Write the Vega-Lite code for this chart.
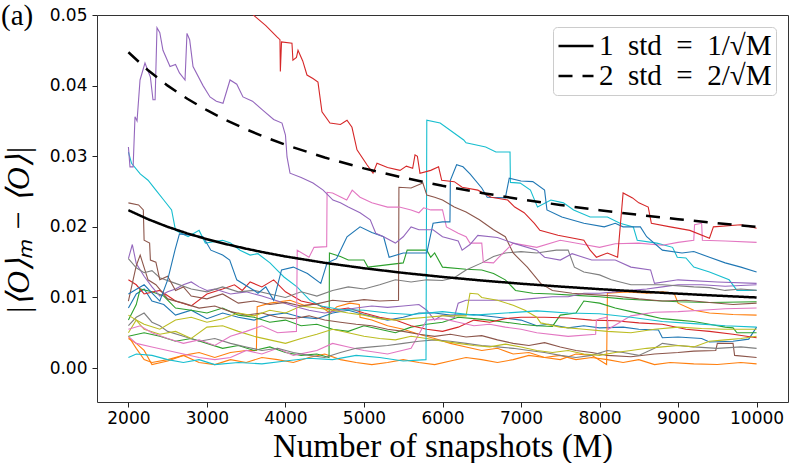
{
"$schema":"https://vega.github.io/schema/vega-lite/v6.json",
"width":691,"height":387,
"autosize":{"type":"none"},
"padding":{"left":97,"top":15,"right":1,"bottom":61},
"title":{"text":"(a)","anchor":"start","frame":"group","orient":"top","dx":-96,"offset":-48,"font":"Liberation Serif","fontSize":29,"fontWeight":"normal","baseline":"alphabetic","color":"black"},
"config":{"view":{"stroke":"#333333","strokeWidth":1},
"axis":{"grid":false,"domain":false,"tickColor":"#222222","tickSize":5,"labelFont":"DejaVu Sans","labelFontSize":17,"labelColor":"black","titleColor":"black","titleFontWeight":"normal"},
"legend":{"orient":"top-right","offset":12,"symbolType":"stroke","symbolSize":1225,"symbolStrokeWidth":2.5,"symbolStrokeColor":"black","labelFont":"Liberation Serif","labelFontSize":29,"labelColor":"black","fillColor":"white","strokeColor":"#cccccc","cornerRadius":4,"padding":4,"rowPadding":0,"clipHeight":30,"labelLimit":400,"labelOffset":4}},
"datasets":{
"std":[
{"l":"1 std = 1/√M","x":2000,"y":0.022361},{"l":"1 std = 1/√M","x":2250,"y":0.021082},{"l":"1 std = 1/√M","x":2500,"y":0.02},{"l":"1 std = 1/√M","x":2750,"y":0.019069},{"l":"1 std = 1/√M","x":3000,"y":0.018257},{"l":"1 std = 1/√M","x":3250,"y":0.017541},{"l":"1 std = 1/√M","x":3500,"y":0.016903},{"l":"1 std = 1/√M","x":3750,"y":0.01633},{"l":"1 std = 1/√M","x":4000,"y":0.015811},{"l":"1 std = 1/√M","x":4500,"y":0.014907},{"l":"1 std = 1/√M","x":5000,"y":0.014142},{"l":"1 std = 1/√M","x":5500,"y":0.013484},{"l":"1 std = 1/√M","x":6000,"y":0.01291},{"l":"1 std = 1/√M","x":6500,"y":0.012403},{"l":"1 std = 1/√M","x":7000,"y":0.011952},{"l":"1 std = 1/√M","x":7500,"y":0.011547},{"l":"1 std = 1/√M","x":8000,"y":0.01118},{"l":"1 std = 1/√M","x":8500,"y":0.010847},{"l":"1 std = 1/√M","x":9000,"y":0.010541},{"l":"1 std = 1/√M","x":9500,"y":0.01026},{"l":"1 std = 1/√M","x":10000,"y":0.01},
{"l":"2 std = 2/√M","x":2000,"y":0.044721},{"l":"2 std = 2/√M","x":2250,"y":0.042164},{"l":"2 std = 2/√M","x":2500,"y":0.04},{"l":"2 std = 2/√M","x":2750,"y":0.038139},{"l":"2 std = 2/√M","x":3000,"y":0.036515},{"l":"2 std = 2/√M","x":3250,"y":0.035082},{"l":"2 std = 2/√M","x":3500,"y":0.033806},{"l":"2 std = 2/√M","x":3750,"y":0.03266},{"l":"2 std = 2/√M","x":4000,"y":0.031623},{"l":"2 std = 2/√M","x":4500,"y":0.029814},{"l":"2 std = 2/√M","x":5000,"y":0.028284},{"l":"2 std = 2/√M","x":5500,"y":0.026968},{"l":"2 std = 2/√M","x":6000,"y":0.02582},{"l":"2 std = 2/√M","x":6500,"y":0.024807},{"l":"2 std = 2/√M","x":7000,"y":0.023905},{"l":"2 std = 2/√M","x":7500,"y":0.023094},{"l":"2 std = 2/√M","x":8000,"y":0.022361},{"l":"2 std = 2/√M","x":8500,"y":0.021693},{"l":"2 std = 2/√M","x":9000,"y":0.021082},{"l":"2 std = 2/√M","x":9500,"y":0.02052},{"l":"2 std = 2/√M","x":10000,"y":0.02}
],
"walks":[
{"s":"b2","x":2000,"y":0.0085},{"s":"b2","x":2100,"y":0.0105},{"s":"b2","x":2200,"y":0.0112},{"s":"b2","x":2300,"y":0.0095},{"s":"b2","x":2450,"y":0.009},{"s":"b2","x":2600,"y":0.0075},{"s":"b2","x":2800,"y":0.0082},{"s":"b2","x":3000,"y":0.007},{"s":"b2","x":3200,"y":0.0078},{"s":"b2","x":3400,"y":0.0072},{"s":"b2","x":3600,"y":0.0068},{"s":"b2","x":3800,"y":0.0075},{"s":"b2","x":4000,"y":0.0078},{"s":"b2","x":4200,"y":0.0072},{"s":"b2","x":4400,"y":0.007},{"s":"b2","x":4600,"y":0.0078},{"s":"b2","x":4800,"y":0.0082},{"s":"b2","x":5000,"y":0.0076},{"s":"b2","x":5300,"y":0.0068},{"s":"b2","x":5500,"y":0.0072},{"s":"b2","x":5700,"y":0.0078},{"s":"b2","x":5900,"y":0.0078},{"s":"b2","x":6100,"y":0.0075},{"s":"b2","x":6400,"y":0.0076},{"s":"b2","x":6700,"y":0.0072},{"s":"b2","x":7000,"y":0.0068},{"s":"b2","x":7200,"y":0.006},{"s":"b2","x":7350,"y":0.0062},{"s":"b2","x":7600,"y":0.0057},{"s":"b2","x":7800,"y":0.006},{"s":"b2","x":8000,"y":0.0057},{"s":"b2","x":8300,"y":0.0058},{"s":"b2","x":8500,"y":0.0055},{"s":"b2","x":8750,"y":0.0054},{"s":"b2","x":8800,"y":0.0043},{"s":"b2","x":9000,"y":0.0044},{"s":"b2","x":9300,"y":0.0042},{"s":"b2","x":9400,"y":0.0037},{"s":"b2","x":9700,"y":0.0038},{"s":"b2","x":9900,"y":0.0041},{"s":"b2","x":10000,"y":0.0058},
{"s":"a1","x":2000,"y":0.0045},{"s":"a1","x":2100,"y":0.0028},{"s":"a1","x":2200,"y":0.0012},{"s":"a1","x":2300,"y":0.0008},{"s":"a1","x":2500,"y":0.0012},{"s":"a1","x":2700,"y":0.0018},{"s":"a1","x":2900,"y":0.0008},{"s":"a1","x":3100,"y":0.0005},{"s":"a1","x":3300,"y":0.0012},{"s":"a1","x":3500,"y":0.0008},{"s":"a1","x":3700,"y":0.0015},{"s":"a1","x":3900,"y":0.0012},{"s":"a1","x":4100,"y":0.0008},{"s":"a1","x":4300,"y":0.0015},{"s":"a1","x":4500,"y":0.002},{"s":"a1","x":4700,"y":0.0012},{"s":"a1","x":4900,"y":0.0008},{"s":"a1","x":5100,"y":0.0005},{"s":"a1","x":5300,"y":0.0008},{"s":"a1","x":5500,"y":0.0012},{"s":"a1","x":5700,"y":0.0008},{"s":"a1","x":5900,"y":0.0005},{"s":"a1","x":6100,"y":0.001},{"s":"a1","x":6300,"y":0.0015},{"s":"a1","x":6500,"y":0.0012},{"s":"a1","x":6700,"y":0.0008},{"s":"a1","x":6900,"y":0.0012},{"s":"a1","x":7100,"y":0.0018},{"s":"a1","x":7300,"y":0.0015},{"s":"a1","x":7500,"y":0.0012},{"s":"a1","x":7700,"y":0.002},{"s":"a1","x":7900,"y":0.0018},{"s":"a1","x":8090,"y":0.0005},{"s":"a1","x":8100,"y":0.0106},{"s":"a1","x":8350,"y":0.0108},{"s":"a1","x":8600,"y":0.0106},{"s":"a1","x":8800,"y":0.0108},{"s":"a1","x":8950,"y":0.0106},{"s":"a1","x":9000,"y":0.0092},{"s":"a1","x":9200,"y":0.0082},{"s":"a1","x":9400,"y":0.0078},{"s":"a1","x":9700,"y":0.0076},{"s":"a1","x":10000,"y":0.0075},
{"s":"a2","x":2000,"y":0.0042},{"s":"a2","x":2100,"y":0.0035},{"s":"a2","x":2200,"y":0.0025},{"s":"a2","x":2300,"y":0.0005},{"s":"a2","x":2500,"y":0.001},{"s":"a2","x":2700,"y":0.0018},{"s":"a2","x":2900,"y":0.0022},{"s":"a2","x":3100,"y":0.0015},{"s":"a2","x":3300,"y":0.0022},{"s":"a2","x":3500,"y":0.0025},{"s":"a2","x":3630,"y":0.0025},{"s":"a2","x":3640,"y":0.0087},{"s":"a2","x":3803,"y":0.0092},{"s":"a2","x":4058,"y":0.0096},{"s":"a2","x":4236,"y":0.0089},{"s":"a2","x":4400,"y":0.0091},{"s":"a2","x":4567,"y":0.0078},{"s":"a2","x":4656,"y":0.0087},{"s":"a2","x":4822,"y":0.0092},{"s":"a2","x":4940,"y":0.009},{"s":"a2","x":4950,"y":0.0072},{"s":"a2","x":5100,"y":0.0068},{"s":"a2","x":5300,"y":0.006},{"s":"a2","x":5500,"y":0.0055},{"s":"a2","x":5700,"y":0.0048},{"s":"a2","x":5900,"y":0.0042},{"s":"a2","x":6100,"y":0.0035},{"s":"a2","x":6300,"y":0.003},{"s":"a2","x":6500,"y":0.0025},{"s":"a2","x":6700,"y":0.0028},{"s":"a2","x":6900,"y":0.002},{"s":"a2","x":7100,"y":0.0022},{"s":"a2","x":7300,"y":0.0015},{"s":"a2","x":7500,"y":0.0018},{"s":"a2","x":7700,"y":0.0012},{"s":"a2","x":7900,"y":0.0015},{"s":"a2","x":8100,"y":0.0012},{"s":"a2","x":8300,"y":0.0008},{"s":"a2","x":8500,"y":0.0012},{"s":"a2","x":8700,"y":0.0005},{"s":"a2","x":8900,"y":0.0008},{"s":"a2","x":9200,"y":0.0006},{"s":"a2","x":9500,"y":0.0005},{"s":"a2","x":9800,"y":0.0008},{"s":"a2","x":10000,"y":0.0006},
{"s":"g1","x":2000,"y":0.0045},{"s":"g1","x":2200,"y":0.005},{"s":"g1","x":2400,"y":0.0045},{"s":"g1","x":2600,"y":0.0038},{"s":"g1","x":2800,"y":0.0042},{"s":"g1","x":3000,"y":0.0035},{"s":"g1","x":3200,"y":0.0028},{"s":"g1","x":3400,"y":0.0032},{"s":"g1","x":3600,"y":0.0025},{"s":"g1","x":3800,"y":0.003},{"s":"g1","x":4000,"y":0.0022},{"s":"g1","x":4200,"y":0.0018},{"s":"g1","x":4400,"y":0.002},{"s":"g1","x":4555,"y":0.0015},{"s":"g1","x":4560,"y":0.0163},{"s":"g1","x":4700,"y":0.0158},{"s":"g1","x":4800,"y":0.0153},{"s":"g1","x":5000,"y":0.0153},{"s":"g1","x":5050,"y":0.0143},{"s":"g1","x":5500,"y":0.0149},{"s":"g1","x":5550,"y":0.0167},{"s":"g1","x":5800,"y":0.0167},{"s":"g1","x":5850,"y":0.0157},{"s":"g1","x":5900,"y":0.0163},{"s":"g1","x":6000,"y":0.0143},{"s":"g1","x":6300,"y":0.014},{"s":"g1","x":6500,"y":0.0139},{"s":"g1","x":6650,"y":0.0134},{"s":"g1","x":6800,"y":0.0125},{"s":"g1","x":6930,"y":0.011},{"s":"g1","x":7150,"y":0.0106},{"s":"g1","x":7400,"y":0.0105},{"s":"g1","x":7700,"y":0.0103},{"s":"g1","x":8000,"y":0.0101},{"s":"g1","x":8300,"y":0.0098},{"s":"g1","x":8600,"y":0.0096},{"s":"g1","x":9000,"y":0.0094},{"s":"g1","x":9400,"y":0.0093},{"s":"g1","x":10000,"y":0.0094},
{"s":"g2","x":2000,"y":0.0068},{"s":"g2","x":2100,"y":0.009},{"s":"g2","x":2150,"y":0.0112},{"s":"g2","x":2300,"y":0.0108},{"s":"g2","x":2450,"y":0.0102},{"s":"g2","x":2600,"y":0.0085},{"s":"g2","x":2800,"y":0.0082},{"s":"g2","x":3000,"y":0.0078},{"s":"g2","x":3200,"y":0.0085},{"s":"g2","x":3400,"y":0.0075},{"s":"g2","x":3600,"y":0.0072},{"s":"g2","x":3800,"y":0.0065},{"s":"g2","x":4000,"y":0.0068},{"s":"g2","x":4200,"y":0.006},{"s":"g2","x":4400,"y":0.0062},{"s":"g2","x":4600,"y":0.0055},{"s":"g2","x":4800,"y":0.0052},{"s":"g2","x":5000,"y":0.006},{"s":"g2","x":5200,"y":0.0055},{"s":"g2","x":5400,"y":0.005},{"s":"g2","x":5600,"y":0.0058},{"s":"g2","x":5800,"y":0.0062},{"s":"g2","x":6000,"y":0.0065},{"s":"g2","x":6200,"y":0.0072},{"s":"g2","x":6400,"y":0.007},{"s":"g2","x":6600,"y":0.0068},{"s":"g2","x":6800,"y":0.0065},{"s":"g2","x":7000,"y":0.0062},{"s":"g2","x":7200,"y":0.006},{"s":"g2","x":7400,"y":0.0059},{"s":"g2","x":7500,"y":0.0075},{"s":"g2","x":7700,"y":0.0078},{"s":"g2","x":7800,"y":0.0095},{"s":"g2","x":8000,"y":0.0092},{"s":"g2","x":8200,"y":0.0085},{"s":"g2","x":8400,"y":0.008},{"s":"g2","x":8600,"y":0.0075},{"s":"g2","x":8800,"y":0.007},{"s":"g2","x":9000,"y":0.0068},{"s":"g2","x":9200,"y":0.0066},{"s":"g2","x":9400,"y":0.0062},{"s":"g2","x":9600,"y":0.0058},{"s":"g2","x":9700,"y":0.0057},{"s":"g2","x":9750,"y":0.005},{"s":"g2","x":10000,"y":0.005},
{"s":"r2","x":2000,"y":0.0125},{"s":"r2","x":2100,"y":0.0118},{"s":"r2","x":2200,"y":0.0105},{"s":"r2","x":2400,"y":0.011},{"s":"r2","x":2600,"y":0.0095},{"s":"r2","x":2800,"y":0.0088},{"s":"r2","x":3000,"y":0.0105},{"s":"r2","x":3200,"y":0.0112},{"s":"r2","x":3350,"y":0.0118},{"s":"r2","x":3450,"y":0.011},{"s":"r2","x":3550,"y":0.0122},{"s":"r2","x":3700,"y":0.0115},{"s":"r2","x":3850,"y":0.0125},{"s":"r2","x":4000,"y":0.0108},{"s":"r2","x":4200,"y":0.0095},{"s":"r2","x":4400,"y":0.009},{"s":"r2","x":4600,"y":0.0082},{"s":"r2","x":4800,"y":0.0085},{"s":"r2","x":5000,"y":0.0078},{"s":"r2","x":5200,"y":0.0072},{"s":"r2","x":5400,"y":0.0068},{"s":"r2","x":5600,"y":0.006},{"s":"r2","x":5800,"y":0.0055},{"s":"r2","x":6000,"y":0.0052},{"s":"r2","x":6200,"y":0.0058},{"s":"r2","x":6400,"y":0.0068},{"s":"r2","x":6600,"y":0.0065},{"s":"r2","x":6800,"y":0.007},{"s":"r2","x":7000,"y":0.0072},{"s":"r2","x":7300,"y":0.0072},{"s":"r2","x":7600,"y":0.0071},{"s":"r2","x":7900,"y":0.0068},{"s":"r2","x":8200,"y":0.0067},{"s":"r2","x":8500,"y":0.0064},{"s":"r2","x":8800,"y":0.0062},{"s":"r2","x":9100,"y":0.0055},{"s":"r2","x":9400,"y":0.0052},{"s":"r2","x":9700,"y":0.0048},{"s":"r2","x":10000,"y":0.0043},
{"s":"p2","x":2000,"y":0.0155},{"s":"p2","x":2050,"y":0.0175},{"s":"p2","x":2100,"y":0.0148},{"s":"p2","x":2200,"y":0.013},{"s":"p2","x":2300,"y":0.0115},{"s":"p2","x":2400,"y":0.0102},{"s":"p2","x":2500,"y":0.0108},{"s":"p2","x":2600,"y":0.0112},{"s":"p2","x":2700,"y":0.0118},{"s":"p2","x":2800,"y":0.0122},{"s":"p2","x":2900,"y":0.0115},{"s":"p2","x":3000,"y":0.011},{"s":"p2","x":3100,"y":0.0112},{"s":"p2","x":3300,"y":0.0105},{"s":"p2","x":3500,"y":0.0108},{"s":"p2","x":3700,"y":0.0102},{"s":"p2","x":3900,"y":0.0095},{"s":"p2","x":4100,"y":0.0088},{"s":"p2","x":4300,"y":0.0082},{"s":"p2","x":4500,"y":0.0078},{"s":"p2","x":4700,"y":0.0082},{"s":"p2","x":4900,"y":0.0085},{"s":"p2","x":5100,"y":0.0088},{"s":"p2","x":5300,"y":0.0086},{"s":"p2","x":5500,"y":0.0088},{"s":"p2","x":5700,"y":0.009},{"s":"p2","x":5800,"y":0.0082},{"s":"p2","x":5900,"y":0.0068},{"s":"p2","x":6000,"y":0.0075},{"s":"p2","x":6150,"y":0.0072},{"s":"p2","x":6200,"y":0.0092},{"s":"p2","x":6300,"y":0.0096},{"s":"p2","x":6600,"y":0.0096},{"s":"p2","x":6900,"y":0.0096},{"s":"p2","x":7100,"y":0.0098},{"s":"p2","x":7400,"y":0.0101},{"s":"p2","x":7600,"y":0.0101},{"s":"p2","x":7800,"y":0.0106},{"s":"p2","x":8000,"y":0.0106},{"s":"p2","x":8200,"y":0.0108},{"s":"p2","x":8400,"y":0.011},{"s":"p2","x":8600,"y":0.0112},{"s":"p2","x":8800,"y":0.0115},{"s":"p2","x":9000,"y":0.0118},{"s":"p2","x":9300,"y":0.0118},{"s":"p2","x":9600,"y":0.0116},{"s":"p2","x":10000,"y":0.0118},
{"s":"n2","x":2000,"y":0.0095},{"s":"n2","x":2100,"y":0.0145},{"s":"n2","x":2150,"y":0.016},{"s":"n2","x":2250,"y":0.0125},{"s":"n2","x":2350,"y":0.0118},{"s":"n2","x":2500,"y":0.0098},{"s":"n2","x":2700,"y":0.0092},{"s":"n2","x":2900,"y":0.0085},{"s":"n2","x":3100,"y":0.0088},{"s":"n2","x":3300,"y":0.008},{"s":"n2","x":3500,"y":0.0075},{"s":"n2","x":3700,"y":0.0078},{"s":"n2","x":3900,"y":0.0072},{"s":"n2","x":4100,"y":0.007},{"s":"n2","x":4300,"y":0.0074},{"s":"n2","x":4500,"y":0.0068},{"s":"n2","x":4700,"y":0.0065},{"s":"n2","x":4900,"y":0.0062},{"s":"n2","x":5100,"y":0.006},{"s":"n2","x":5300,"y":0.0055},{"s":"n2","x":5500,"y":0.0052},{"s":"n2","x":5700,"y":0.0048},{"s":"n2","x":5900,"y":0.0045},{"s":"n2","x":6100,"y":0.0048},{"s":"n2","x":6300,"y":0.0044},{"s":"n2","x":6500,"y":0.0046},{"s":"n2","x":6700,"y":0.004},{"s":"n2","x":6900,"y":0.0035},{"s":"n2","x":7100,"y":0.0032},{"s":"n2","x":7300,"y":0.0036},{"s":"n2","x":7500,"y":0.003},{"s":"n2","x":7700,"y":0.0025},{"s":"n2","x":7900,"y":0.0022},{"s":"n2","x":8100,"y":0.0018},{"s":"n2","x":8400,"y":0.0016},{"s":"n2","x":8700,"y":0.002},{"s":"n2","x":9000,"y":0.0022},{"s":"n2","x":9200,"y":0.0024},{"s":"n2","x":9480,"y":0.0025},{"s":"n2","x":9500,"y":0.0035},{"s":"n2","x":9700,"y":0.0035},{"s":"n2","x":9720,"y":0.0018},{"s":"n2","x":10000,"y":0.0015},
{"s":"k2","x":2000,"y":0.0045},{"s":"k2","x":2100,"y":0.0035},{"s":"k2","x":2300,"y":0.003},{"s":"k2","x":2500,"y":0.0025},{"s":"k2","x":2700,"y":0.002},{"s":"k2","x":2900,"y":0.0015},{"s":"k2","x":3100,"y":0.0012},{"s":"k2","x":3300,"y":0.0015},{"s":"k2","x":3500,"y":0.0025},{"s":"k2","x":3700,"y":0.002},{"s":"k2","x":3900,"y":0.0028},{"s":"k2","x":4100,"y":0.0018},{"s":"k2","x":4400,"y":0.0025},{"s":"k2","x":4600,"y":0.0035},{"s":"k2","x":4800,"y":0.003},{"s":"k2","x":5000,"y":0.0025},{"s":"k2","x":5300,"y":0.002},{"s":"k2","x":5600,"y":0.0028},{"s":"k2","x":5800,"y":0.0068},{"s":"k2","x":6000,"y":0.007},{"s":"k2","x":6200,"y":0.0065},{"s":"k2","x":6400,"y":0.006},{"s":"k2","x":6600,"y":0.0062},{"s":"k2","x":6800,"y":0.0058},{"s":"k2","x":7000,"y":0.0055},{"s":"k2","x":7200,"y":0.005},{"s":"k2","x":7600,"y":0.0045},{"s":"k2","x":7950,"y":0.0048},{"s":"k2","x":7960,"y":0.0068},{"s":"k2","x":8000,"y":0.007},{"s":"k2","x":8100,"y":0.0072},{"s":"k2","x":8110,"y":0.0055},{"s":"k2","x":8400,"y":0.0074},{"s":"k2","x":8700,"y":0.0079},{"s":"k2","x":9000,"y":0.008},{"s":"k2","x":9300,"y":0.0082},{"s":"k2","x":9600,"y":0.0084},{"s":"k2","x":10000,"y":0.0085},
{"s":"y2","x":2000,"y":0.006},{"s":"y2","x":2100,"y":0.0072},{"s":"y2","x":2200,"y":0.0078},{"s":"y2","x":2300,"y":0.0065},{"s":"y2","x":2400,"y":0.006},{"s":"y2","x":2500,"y":0.0052},{"s":"y2","x":2700,"y":0.0045},{"s":"y2","x":2900,"y":0.0038},{"s":"y2","x":3100,"y":0.0042},{"s":"y2","x":3300,"y":0.0035},{"s":"y2","x":3500,"y":0.003},{"s":"y2","x":3700,"y":0.0025},{"s":"y2","x":3900,"y":0.0028},{"s":"y2","x":4100,"y":0.0022},{"s":"y2","x":4300,"y":0.0018},{"s":"y2","x":4500,"y":0.0015},{"s":"y2","x":4700,"y":0.0022},{"s":"y2","x":4900,"y":0.0028},{"s":"y2","x":5100,"y":0.003},{"s":"y2","x":5300,"y":0.0032},{"s":"y2","x":5500,"y":0.0035},{"s":"y2","x":5700,"y":0.0038},{"s":"y2","x":5900,"y":0.004},{"s":"y2","x":6100,"y":0.0038},{"s":"y2","x":6300,"y":0.0035},{"s":"y2","x":6500,"y":0.0032},{"s":"y2","x":6700,"y":0.003},{"s":"y2","x":6900,"y":0.0028},{"s":"y2","x":7100,"y":0.0025},{"s":"y2","x":7300,"y":0.0022},{"s":"y2","x":7500,"y":0.0018},{"s":"y2","x":7700,"y":0.0015},{"s":"y2","x":7900,"y":0.0018},{"s":"y2","x":8100,"y":0.0025},{"s":"y2","x":8300,"y":0.0022},{"s":"y2","x":8500,"y":0.0018},{"s":"y2","x":8700,"y":0.0028},{"s":"y2","x":8800,"y":0.0035},{"s":"y2","x":9000,"y":0.0032},{"s":"y2","x":9200,"y":0.003},{"s":"y2","x":9500,"y":0.0028},{"s":"y2","x":9800,"y":0.003},{"s":"y2","x":10000,"y":0.0028},
{"s":"o1","x":2000,"y":0.005},{"s":"o1","x":2100,"y":0.0068},{"s":"o1","x":2200,"y":0.0062},{"s":"o1","x":2400,"y":0.0055},{"s":"o1","x":2600,"y":0.0068},{"s":"o1","x":2800,"y":0.0072},{"s":"o1","x":3000,"y":0.0065},{"s":"o1","x":3200,"y":0.007},{"s":"o1","x":3400,"y":0.0078},{"s":"o1","x":3600,"y":0.0074},{"s":"o1","x":3800,"y":0.0082},{"s":"o1","x":4000,"y":0.0078},{"s":"o1","x":4200,"y":0.0088},{"s":"o1","x":4400,"y":0.0085},{"s":"o1","x":4600,"y":0.0082},{"s":"o1","x":4800,"y":0.0078},{"s":"o1","x":5000,"y":0.0075},{"s":"o1","x":5200,"y":0.007},{"s":"o1","x":5400,"y":0.0068},{"s":"o1","x":5600,"y":0.007},{"s":"o1","x":5800,"y":0.0072},{"s":"o1","x":6000,"y":0.0074},{"s":"o1","x":6300,"y":0.0074},{"s":"o1","x":6350,"y":0.0106},{"s":"o1","x":6450,"y":0.0105},{"s":"o1","x":6500,"y":0.01},{"s":"o1","x":6700,"y":0.0096},{"s":"o1","x":6900,"y":0.0089},{"s":"o1","x":7050,"y":0.0082},{"s":"o1","x":7200,"y":0.0072},{"s":"o1","x":7250,"y":0.0064},{"s":"o1","x":7500,"y":0.0058},{"s":"o1","x":7800,"y":0.0055},{"s":"o1","x":8100,"y":0.0052},{"s":"o1","x":8400,"y":0.005},{"s":"o1","x":8700,"y":0.0055},{"s":"o1","x":9000,"y":0.0058},{"s":"o1","x":9300,"y":0.0056},{"s":"o1","x":9600,"y":0.0055},{"s":"o1","x":10000,"y":0.0055},
{"s":"o2","x":2000,"y":0.0075},{"s":"o2","x":2100,"y":0.0068},{"s":"o2","x":2200,"y":0.0055},{"s":"o2","x":2400,"y":0.0048},{"s":"o2","x":2600,"y":0.0052},{"s":"o2","x":2800,"y":0.0042},{"s":"o2","x":3000,"y":0.0058},{"s":"o2","x":3200,"y":0.006},{"s":"o2","x":3400,"y":0.0052},{"s":"o2","x":3600,"y":0.0045},{"s":"o2","x":3800,"y":0.004},{"s":"o2","x":4000,"y":0.0035},{"s":"o2","x":4200,"y":0.0042},{"s":"o2","x":4400,"y":0.0048},{"s":"o2","x":4600,"y":0.0055},{"s":"o2","x":4800,"y":0.005},{"s":"o2","x":5000,"y":0.0045},{"s":"o2","x":5200,"y":0.0042},{"s":"o2","x":5400,"y":0.004},{"s":"o2","x":5600,"y":0.0045},{"s":"o2","x":5800,"y":0.0042},{"s":"o2","x":6000,"y":0.0038},{"s":"o2","x":6200,"y":0.0035},{"s":"o2","x":6400,"y":0.0032},{"s":"o2","x":6600,"y":0.003},{"s":"o2","x":6800,"y":0.0034},{"s":"o2","x":7000,"y":0.003},{"s":"o2","x":7200,"y":0.0025},{"s":"o2","x":7400,"y":0.0022},{"s":"o2","x":7600,"y":0.0025},{"s":"o2","x":7800,"y":0.002},{"s":"o2","x":8000,"y":0.0018},{"s":"o2","x":8200,"y":0.0022},{"s":"o2","x":8400,"y":0.0025},{"s":"o2","x":8600,"y":0.0028},{"s":"o2","x":8800,"y":0.003},{"s":"o2","x":9000,"y":0.0032},{"s":"o2","x":9200,"y":0.003},{"s":"o2","x":9400,"y":0.0038},{"s":"o2","x":9600,"y":0.004},{"s":"o2","x":9800,"y":0.0042},{"s":"o2","x":10000,"y":0.0045},
{"s":"c1","x":2000,"y":0.0306},{"s":"c1","x":2040,"y":0.029},{"s":"c1","x":2150,"y":0.0275},{"s":"c1","x":2250,"y":0.0266},{"s":"c1","x":2350,"y":0.0252},{"s":"c1","x":2450,"y":0.0238},{"s":"c1","x":2550,"y":0.0224},{"s":"c1","x":2600,"y":0.0195},{"s":"c1","x":2760,"y":0.0186},{"s":"c1","x":2900,"y":0.0195},{"s":"c1","x":2980,"y":0.0177},{"s":"c1","x":3200,"y":0.0181},{"s":"c1","x":3300,"y":0.0177},{"s":"c1","x":3421,"y":0.0167},{"s":"c1","x":3550,"y":0.016},{"s":"c1","x":3650,"y":0.0162},{"s":"c1","x":3803,"y":0.0149},{"s":"c1","x":3900,"y":0.0138},{"s":"c1","x":3981,"y":0.0129},{"s":"c1","x":4147,"y":0.0115},{"s":"c1","x":4313,"y":0.0096},{"s":"c1","x":4450,"y":0.0088},{"s":"c1","x":4700,"y":0.0083},{"s":"c1","x":5000,"y":0.0082},{"s":"c1","x":5300,"y":0.0078},{"s":"c1","x":5600,"y":0.0076},{"s":"c1","x":6000,"y":0.008},{"s":"c1","x":6400,"y":0.0075},{"s":"c1","x":6800,"y":0.0078},{"s":"c1","x":7200,"y":0.0081},{"s":"c1","x":7600,"y":0.0078},{"s":"c1","x":8000,"y":0.0077},{"s":"c1","x":8400,"y":0.0072},{"s":"c1","x":8800,"y":0.0066},{"s":"c1","x":9200,"y":0.0063},{"s":"c1","x":9600,"y":0.006},{"s":"c1","x":10000,"y":0.0058},
{"s":"c2","x":2000,"y":0.0015},{"s":"c2","x":2100,"y":0.002},{"s":"c2","x":2300,"y":0.0018},{"s":"c2","x":2500,"y":0.0012},{"s":"c2","x":2700,"y":0.0008},{"s":"c2","x":2900,"y":0.0012},{"s":"c2","x":3100,"y":0.0005},{"s":"c2","x":3400,"y":0.0008},{"s":"c2","x":3700,"y":0.0006},{"s":"c2","x":4000,"y":0.001},{"s":"c2","x":4300,"y":0.0014},{"s":"c2","x":4600,"y":0.0012},{"s":"c2","x":4900,"y":0.0018},{"s":"c2","x":5200,"y":0.0015},{"s":"c2","x":5500,"y":0.001},{"s":"c2","x":5790,"y":0.0012},{"s":"c2","x":5800,"y":0.0351},{"s":"c2","x":5970,"y":0.0347},{"s":"c2","x":6270,"y":0.0323},{"s":"c2","x":6300,"y":0.0319},{"s":"c2","x":6550,"y":0.0313},{"s":"c2","x":6680,"y":0.0306},{"s":"c2","x":6860,"y":0.0306},{"s":"c2","x":6865,"y":0.0263},{"s":"c2","x":6990,"y":0.0262},{"s":"c2","x":7120,"y":0.0252},{"s":"c2","x":7210,"y":0.0228},{"s":"c2","x":7380,"y":0.0238},{"s":"c2","x":7540,"y":0.0234},{"s":"c2","x":7670,"y":0.0224},{"s":"c2","x":7880,"y":0.0214},{"s":"c2","x":8100,"y":0.0214},{"s":"c2","x":8260,"y":0.0205},{"s":"c2","x":8430,"y":0.02},{"s":"c2","x":8480,"y":0.0181},{"s":"c2","x":8730,"y":0.0177},{"s":"c2","x":8930,"y":0.0171},{"s":"c2","x":8990,"y":0.0157},{"s":"c2","x":9100,"y":0.0156},{"s":"c2","x":9200,"y":0.0143},{"s":"c2","x":9400,"y":0.0136},{"s":"c2","x":9650,"y":0.0125},{"s":"c2","x":9750,"y":0.011},{"s":"c2","x":10000,"y":0.011},
{"s":"y1","x":2000,"y":0.0155},{"s":"y1","x":2100,"y":0.0142},{"s":"y1","x":2200,"y":0.0135},{"s":"y1","x":2300,"y":0.0138},{"s":"y1","x":2400,"y":0.0128},{"s":"y1","x":2600,"y":0.012},{"s":"y1","x":2800,"y":0.0112},{"s":"y1","x":3000,"y":0.0108},{"s":"y1","x":3200,"y":0.0115},{"s":"y1","x":3400,"y":0.0108},{"s":"y1","x":3600,"y":0.011},{"s":"y1","x":3800,"y":0.0105},{"s":"y1","x":4000,"y":0.01},{"s":"y1","x":4200,"y":0.0108},{"s":"y1","x":4400,"y":0.0102},{"s":"y1","x":4600,"y":0.011},{"s":"y1","x":4800,"y":0.0115},{"s":"y1","x":5000,"y":0.0112},{"s":"y1","x":5200,"y":0.0118},{"s":"y1","x":5400,"y":0.0125},{"s":"y1","x":5600,"y":0.0122},{"s":"y1","x":5800,"y":0.0125},{"s":"y1","x":6000,"y":0.0124},{"s":"y1","x":6150,"y":0.0128},{"s":"y1","x":6300,"y":0.0139},{"s":"y1","x":6500,"y":0.0149},{"s":"y1","x":6650,"y":0.0158},{"s":"y1","x":6800,"y":0.0163},{"s":"y1","x":7000,"y":0.0165},{"s":"y1","x":7200,"y":0.0163},{"s":"y1","x":7450,"y":0.0167},{"s":"y1","x":7600,"y":0.0167},{"s":"y1","x":7680,"y":0.0143},{"s":"y1","x":7800,"y":0.0136},{"s":"y1","x":8000,"y":0.0132},{"s":"y1","x":8150,"y":0.0125},{"s":"y1","x":8400,"y":0.0118},{"s":"y1","x":8800,"y":0.0118},{"s":"y1","x":9200,"y":0.0115},{"s":"y1","x":9400,"y":0.0114},{"s":"y1","x":9600,"y":0.011},{"s":"y1","x":9800,"y":0.0112},{"s":"y1","x":10000,"y":0.011},
{"s":"n1","x":2000,"y":0.0234},{"s":"n1","x":2130,"y":0.0231},{"s":"n1","x":2190,"y":0.0224},{"s":"n1","x":2200,"y":0.0181},{"s":"n1","x":2270,"y":0.0177},{"s":"n1","x":2280,"y":0.0153},{"s":"n1","x":2350,"y":0.015},{"s":"n1","x":2400,"y":0.0125},{"s":"n1","x":2500,"y":0.013},{"s":"n1","x":2600,"y":0.011},{"s":"n1","x":2700,"y":0.0115},{"s":"n1","x":2800,"y":0.0102},{"s":"n1","x":3000,"y":0.0098},{"s":"n1","x":3200,"y":0.0105},{"s":"n1","x":3400,"y":0.0092},{"s":"n1","x":3600,"y":0.0095},{"s":"n1","x":3800,"y":0.009},{"s":"n1","x":4000,"y":0.0093},{"s":"n1","x":4200,"y":0.0088},{"s":"n1","x":4400,"y":0.0091},{"s":"n1","x":4600,"y":0.0096},{"s":"n1","x":4800,"y":0.0094},{"s":"n1","x":5000,"y":0.0097},{"s":"n1","x":5200,"y":0.0095},{"s":"n1","x":5440,"y":0.0096},{"s":"n1","x":5445,"y":0.0256},{"s":"n1","x":5600,"y":0.0255},{"s":"n1","x":5750,"y":0.0262},{"s":"n1","x":5800,"y":0.0245},{"s":"n1","x":5900,"y":0.0242},{"s":"n1","x":6000,"y":0.0238},{"s":"n1","x":6150,"y":0.0228},{"s":"n1","x":6300,"y":0.0221},{"s":"n1","x":6470,"y":0.021},{"s":"n1","x":6650,"y":0.0196},{"s":"n1","x":6800,"y":0.0186},{"s":"n1","x":6900,"y":0.0163},{"s":"n1","x":7080,"y":0.0143},{"s":"n1","x":7250,"y":0.012},{"s":"n1","x":7400,"y":0.011},{"s":"n1","x":7650,"y":0.0106},{"s":"n1","x":7900,"y":0.0104},{"s":"n1","x":8200,"y":0.0102},{"s":"n1","x":8500,"y":0.0098},{"s":"n1","x":8800,"y":0.0095},{"s":"n1","x":9100,"y":0.0096},{"s":"n1","x":9400,"y":0.0093},{"s":"n1","x":9700,"y":0.009},{"s":"n1","x":10000,"y":0.0092},
{"s":"k1","x":2000,"y":0.0055},{"s":"k1","x":2150,"y":0.006},{"s":"k1","x":2300,"y":0.005},{"s":"k1","x":2500,"y":0.0042},{"s":"k1","x":2700,"y":0.0035},{"s":"k1","x":2900,"y":0.004},{"s":"k1","x":3100,"y":0.0032},{"s":"k1","x":3300,"y":0.0045},{"s":"k1","x":3500,"y":0.0052},{"s":"k1","x":3700,"y":0.006},{"s":"k1","x":3900,"y":0.005},{"s":"k1","x":4140,"y":0.0052},{"s":"k1","x":4150,"y":0.0167},{"s":"k1","x":4300,"y":0.0157},{"s":"k1","x":4364,"y":0.0171},{"s":"k1","x":4525,"y":0.0172},{"s":"k1","x":4530,"y":0.0249},{"s":"k1","x":4600,"y":0.0248},{"s":"k1","x":4780,"y":0.0238},{"s":"k1","x":4850,"y":0.0252},{"s":"k1","x":4950,"y":0.0242},{"s":"k1","x":5100,"y":0.0234},{"s":"k1","x":5300,"y":0.0228},{"s":"k1","x":5450,"y":0.0228},{"s":"k1","x":5600,"y":0.0224},{"s":"k1","x":5700,"y":0.022},{"s":"k1","x":5760,"y":0.0227},{"s":"k1","x":5850,"y":0.0224},{"s":"k1","x":6000,"y":0.0224},{"s":"k1","x":6050,"y":0.02},{"s":"k1","x":6200,"y":0.0191},{"s":"k1","x":6300,"y":0.0186},{"s":"k1","x":6350,"y":0.0177},{"s":"k1","x":6500,"y":0.0177},{"s":"k1","x":6520,"y":0.015},{"s":"k1","x":6650,"y":0.0149},{"s":"k1","x":6700,"y":0.0155},{"s":"k1","x":6900,"y":0.0177},{"s":"k1","x":7200,"y":0.0171},{"s":"k1","x":7500,"y":0.0181},{"s":"k1","x":7800,"y":0.0175},{"s":"k1","x":8000,"y":0.0171},{"s":"k1","x":8200,"y":0.0176},{"s":"k1","x":8500,"y":0.0177},{"s":"k1","x":8800,"y":0.0174},{"s":"k1","x":9000,"y":0.0178},{"s":"k1","x":9200,"y":0.0181},{"s":"k1","x":9210,"y":0.0203},{"s":"k1","x":9300,"y":0.0205},{"s":"k1","x":9310,"y":0.0181},{"s":"k1","x":9600,"y":0.018},{"s":"k1","x":10000,"y":0.0178},
{"s":"b1","x":2000,"y":0.0105},{"s":"b1","x":2200,"y":0.0118},{"s":"b1","x":2400,"y":0.0095},{"s":"b1","x":2500,"y":0.0125},{"s":"b1","x":2593,"y":0.0167},{"s":"b1","x":2650,"y":0.019},{"s":"b1","x":2800,"y":0.0188},{"s":"b1","x":2950,"y":0.0186},{"s":"b1","x":3050,"y":0.0167},{"s":"b1","x":3200,"y":0.016},{"s":"b1","x":3290,"y":0.0153},{"s":"b1","x":3380,"y":0.0125},{"s":"b1","x":3600,"y":0.011},{"s":"b1","x":3650,"y":0.0106},{"s":"b1","x":3750,"y":0.0115},{"s":"b1","x":3850,"y":0.0096},{"s":"b1","x":3950,"y":0.0139},{"s":"b1","x":4100,"y":0.0143},{"s":"b1","x":4280,"y":0.0134},{"s":"b1","x":4450,"y":0.012},{"s":"b1","x":4530,"y":0.0149},{"s":"b1","x":4650,"y":0.0155},{"s":"b1","x":4784,"y":0.0186},{"s":"b1","x":4950,"y":0.02},{"s":"b1","x":5100,"y":0.0192},{"s":"b1","x":5250,"y":0.0186},{"s":"b1","x":5320,"y":0.0157},{"s":"b1","x":5500,"y":0.0163},{"s":"b1","x":5800,"y":0.0163},{"s":"b1","x":5880,"y":0.0205},{"s":"b1","x":6000,"y":0.0207},{"s":"b1","x":6095,"y":0.0207},{"s":"b1","x":6100,"y":0.0266},{"s":"b1","x":6180,"y":0.0288},{"s":"b1","x":6261,"y":0.0285},{"s":"b1","x":6350,"y":0.0275},{"s":"b1","x":6500,"y":0.0255},{"s":"b1","x":6570,"y":0.0242},{"s":"b1","x":6800,"y":0.0241},{"s":"b1","x":6850,"y":0.0269},{"s":"b1","x":7000,"y":0.0265},{"s":"b1","x":7150,"y":0.0264},{"s":"b1","x":7300,"y":0.0252},{"s":"b1","x":7330,"y":0.0224},{"s":"b1","x":7520,"y":0.0214},{"s":"b1","x":7800,"y":0.0205},{"s":"b1","x":8060,"y":0.02},{"s":"b1","x":8200,"y":0.0205},{"s":"b1","x":8300,"y":0.02},{"s":"b1","x":8520,"y":0.02},{"s":"b1","x":8600,"y":0.0186},{"s":"b1","x":8800,"y":0.0167},{"s":"b1","x":9050,"y":0.0163},{"s":"b1","x":9200,"y":0.0165},{"s":"b1","x":9400,"y":0.0157},{"s":"b1","x":9600,"y":0.0149},{"s":"b1","x":9800,"y":0.0143},{"s":"b1","x":10000,"y":0.0136},
{"s":"p1","x":2000,"y":0.0313},{"s":"p1","x":2020,"y":0.0285},{"s":"p1","x":2060,"y":0.0285},{"s":"p1","x":2084,"y":0.0356},{"s":"p1","x":2110,"y":0.035},{"s":"p1","x":2148,"y":0.0408},{"s":"p1","x":2211,"y":0.0432},{"s":"p1","x":2280,"y":0.0412},{"s":"p1","x":2313,"y":0.038},{"s":"p1","x":2340,"y":0.038},{"s":"p1","x":2364,"y":0.0482},{"s":"p1","x":2400,"y":0.0475},{"s":"p1","x":2440,"y":0.045},{"s":"p1","x":2530,"y":0.0427},{"s":"p1","x":2600,"y":0.043},{"s":"p1","x":2650,"y":0.0418},{"s":"p1","x":2721,"y":0.0408},{"s":"p1","x":2746,"y":0.0474},{"s":"p1","x":2780,"y":0.0465},{"s":"p1","x":2823,"y":0.0427},{"s":"p1","x":2950,"y":0.04},{"s":"p1","x":3039,"y":0.0384},{"s":"p1","x":3120,"y":0.0378},{"s":"p1","x":3205,"y":0.0375},{"s":"p1","x":3294,"y":0.0408},{"s":"p1","x":3380,"y":0.0402},{"s":"p1","x":3459,"y":0.0384},{"s":"p1","x":3580,"y":0.0378},{"s":"p1","x":3714,"y":0.0365},{"s":"p1","x":3850,"y":0.0352},{"s":"p1","x":3956,"y":0.0347},{"s":"p1","x":4000,"y":0.033},{"s":"p1","x":4020,"y":0.0299},{"s":"p1","x":4058,"y":0.0276},{"s":"p1","x":4200,"y":0.027},{"s":"p1","x":4351,"y":0.0262},{"s":"p1","x":4480,"y":0.0252},{"s":"p1","x":4605,"y":0.0238},{"s":"p1","x":4700,"y":0.0234},{"s":"p1","x":4800,"y":0.0228},{"s":"p1","x":4950,"y":0.022},{"s":"p1","x":5080,"y":0.021},{"s":"p1","x":5150,"y":0.0191},{"s":"p1","x":5250,"y":0.0186},{"s":"p1","x":5400,"y":0.0177},{"s":"p1","x":5500,"y":0.0186},{"s":"p1","x":5600,"y":0.02},{"s":"p1","x":5700,"y":0.0196},{"s":"p1","x":5880,"y":0.0196},{"s":"p1","x":6000,"y":0.0186},{"s":"p1","x":6200,"y":0.018},{"s":"p1","x":6250,"y":0.0167},{"s":"p1","x":6350,"y":0.0175},{"s":"p1","x":6450,"y":0.0188},{"s":"p1","x":6700,"y":0.0185},{"s":"p1","x":6900,"y":0.0177},{"s":"p1","x":7200,"y":0.0167},{"s":"p1","x":7300,"y":0.0157},{"s":"p1","x":7500,"y":0.0153},{"s":"p1","x":7650,"y":0.0162},{"s":"p1","x":7900,"y":0.0153},{"s":"p1","x":8200,"y":0.0153},{"s":"p1","x":8400,"y":0.0143},{"s":"p1","x":8650,"y":0.0139},{"s":"p1","x":8700,"y":0.012},{"s":"p1","x":9000,"y":0.0125},{"s":"p1","x":9500,"y":0.0122},{"s":"p1","x":10000,"y":0.012},
{"s":"r1","x":2000,"y":0.082},{"s":"r1","x":2300,"y":0.076},{"s":"r1","x":2600,"y":0.07},{"s":"r1","x":2900,"y":0.064},{"s":"r1","x":3200,"y":0.058},{"s":"r1","x":3590,"y":0.05},{"s":"r1","x":3750,"y":0.0485},{"s":"r1","x":3892,"y":0.0469},{"s":"r1","x":3930,"y":0.0465},{"s":"r1","x":3935,"y":0.042},{"s":"r1","x":3950,"y":0.0462},{"s":"r1","x":4083,"y":0.046},{"s":"r1","x":4095,"y":0.0436},{"s":"r1","x":4140,"y":0.044},{"s":"r1","x":4160,"y":0.045},{"s":"r1","x":4220,"y":0.0435},{"s":"r1","x":4274,"y":0.0415},{"s":"r1","x":4350,"y":0.041},{"s":"r1","x":4414,"y":0.0405},{"s":"r1","x":4465,"y":0.0363},{"s":"r1","x":4567,"y":0.0347},{"s":"r1","x":4700,"y":0.0345},{"s":"r1","x":4784,"y":0.0351},{"s":"r1","x":4847,"y":0.0341},{"s":"r1","x":4911,"y":0.0309},{"s":"r1","x":5038,"y":0.0288},{"s":"r1","x":5115,"y":0.0276},{"s":"r1","x":5166,"y":0.029},{"s":"r1","x":5300,"y":0.0284},{"s":"r1","x":5459,"y":0.028},{"s":"r1","x":5540,"y":0.0286},{"s":"r1","x":5620,"y":0.0283},{"s":"r1","x":5650,"y":0.0302},{"s":"r1","x":5680,"y":0.03},{"s":"r1","x":5713,"y":0.0276},{"s":"r1","x":5850,"y":0.028},{"s":"r1","x":5950,"y":0.0285},{"s":"r1","x":5990,"y":0.0266},{"s":"r1","x":6150,"y":0.0264},{"s":"r1","x":6250,"y":0.0256},{"s":"r1","x":6450,"y":0.0252},{"s":"r1","x":6620,"y":0.0242},{"s":"r1","x":6830,"y":0.0238},{"s":"r1","x":6920,"y":0.0228},{"s":"r1","x":7040,"y":0.022},{"s":"r1","x":7170,"y":0.0205},{"s":"r1","x":7240,"y":0.0195},{"s":"r1","x":7470,"y":0.0188},{"s":"r1","x":7800,"y":0.0181},{"s":"r1","x":7880,"y":0.0167},{"s":"r1","x":7960,"y":0.0157},{"s":"r1","x":8100,"y":0.0163},{"s":"r1","x":8230,"y":0.0157},{"s":"r1","x":8300,"y":0.0248},{"s":"r1","x":8420,"y":0.0241},{"s":"r1","x":8500,"y":0.0234},{"s":"r1","x":8620,"y":0.0228},{"s":"r1","x":8660,"y":0.0205},{"s":"r1","x":8900,"y":0.02},{"s":"r1","x":9150,"y":0.0195},{"s":"r1","x":9400,"y":0.0184},{"s":"r1","x":9450,"y":0.02},{"s":"r1","x":9800,"y":0.0203},{"s":"r1","x":10000,"y":0.0198}
]},
"layer":[
{"data":{"name":"walks"},
"mark":{"type":"line","clip":true,"strokeWidth":1.1},
"encoding":{
"x":{"field":"x","type":"quantitative","scale":{"domain":[1600,10400],"nice":false,"zero":false},"axis":{"values":[2000,3000,4000,5000,6000,7000,8000,9000,10000],"format":"d","title":"Number of snapshots (M)","titleFont":"Liberation Serif","titleFontSize":33,"titleBaseline":"alphabetic","titleY":54,"labelPadding":3}},
"y":{"field":"y","type":"quantitative","scale":{"domain":[-0.0048,0.05],"nice":false,"zero":false},"axis":{"values":[0,0.01,0.02,0.03,0.04,0.05],"format":".2f","title":"|⟨O⟩ₘ − ⟨O⟩|","titleFont":"Liberation Serif","titleFontSize":32,"titleFontStyle":"italic","titleX":-62,"titleY":215,"titleBaseline":"bottom","labelPadding":5}},
"color":{"field":"s","type":"nominal","legend":null,"scale":{"domain":["r1","r2","p1","p2","c1","c2","b1","b2","n1","n2","k1","k2","g1","g2","y1","y2","o1","o2","a1","a2"],"range":["#d62728","#d62728","#9467bd","#9467bd","#17becf","#17becf","#1f77b4","#1f77b4","#8c564b","#8c564b","#e377c2","#e377c2","#2ca02c","#2ca02c","#7f7f7f","#7f7f7f","#bcbd22","#bcbd22","#ff7f0e","#ff7f0e"]}}}},
{"data":{"name":"std"},
"mark":{"type":"line","strokeWidth":2.5,"color":"black"},
"encoding":{
"x":{"field":"x","type":"quantitative"},
"y":{"field":"y","type":"quantitative"},
"strokeDash":{"field":"l","type":"nominal","scale":{"domain":["1 std = 1/√M","2 std = 2/√M"],"range":[[1,0],[14,10]]},"legend":{"title":null,"labelExpr":"replace(datum.label, ' std = ', '\u00a0\u00a0std\u00a0\u00a0=\u00a0\u00a0')"}}}}
]
}
